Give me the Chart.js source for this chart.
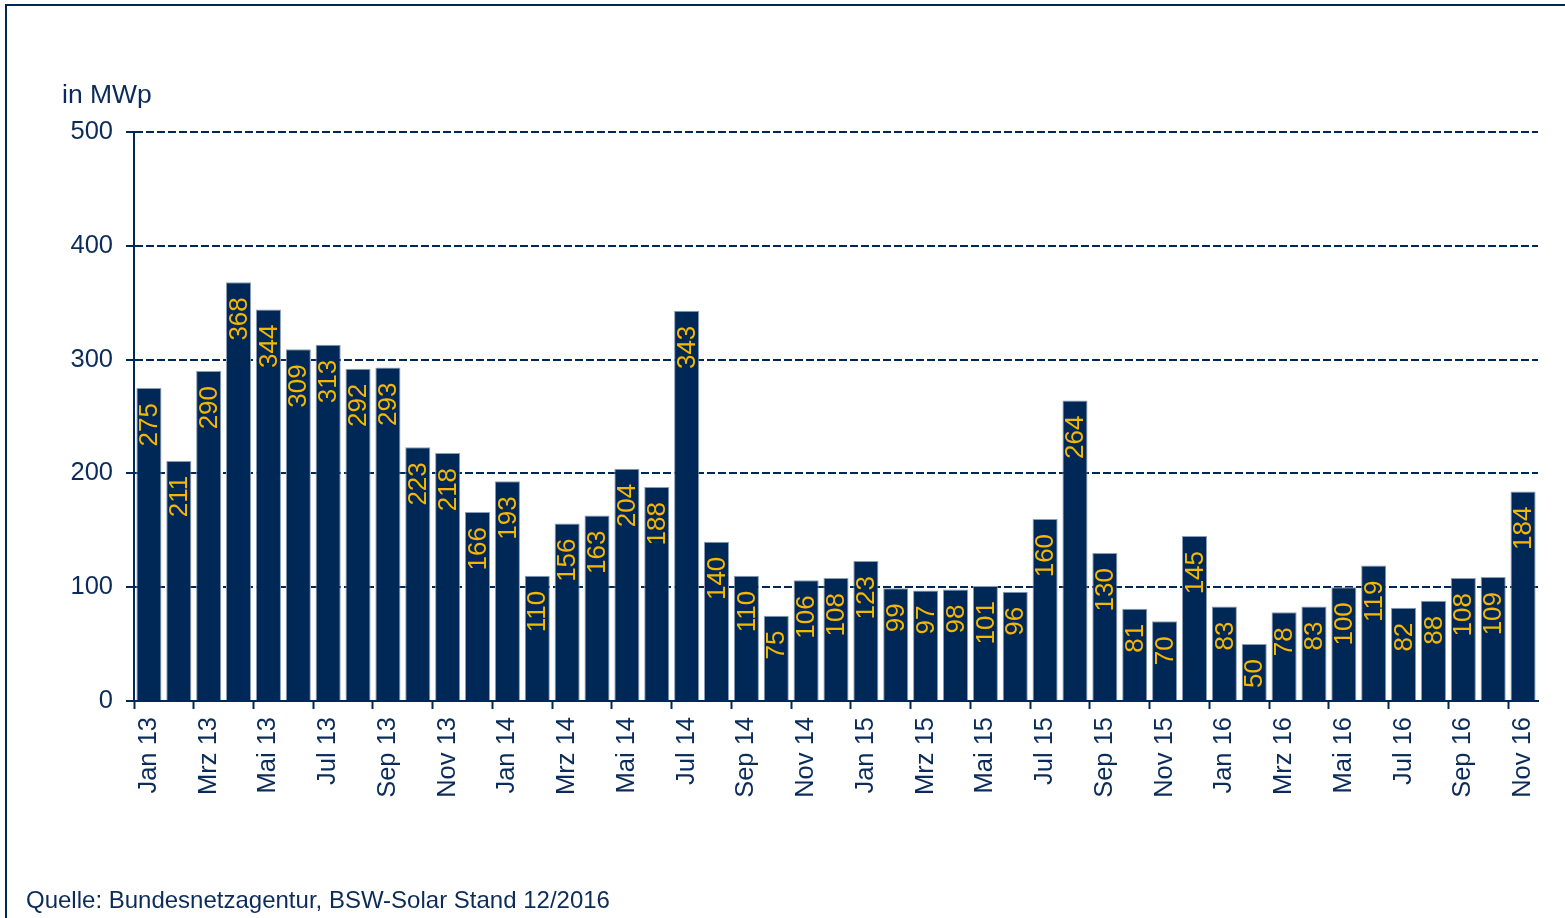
<!DOCTYPE html>
<html>
<head>
<meta charset="utf-8">
<script src="https://cdn.jsdelivr.net/npm/chart.js@4"></script>
<style>
  body { margin: 0; background: #fff; }
  #wrap { position: relative; width: 1565px; height: 918px; overflow: hidden; background: #fff; }
  #frame { position: absolute; left: 5px; top: 4px; width: 1600px; height: 1000px; border: 2px solid #002856; box-sizing: border-box; }
  canvas { position: absolute; left: 0; top: 0; }
  .txt { position: absolute; font-family: Arial, "Liberation Sans", sans-serif; color: #0b2c5a; white-space: nowrap; }
  #unit { left: 62px; top: 79px; font-size: 26.5px; }
  #source { left: 26px; top: 886px; font-size: 24px; }
</style>
</head>
<body>
<div id="wrap">
  <div id="frame"></div>
  <canvas id="chart" width="1565" height="918"></canvas>
  <div id="unit" class="txt">in MWp</div>
  <div id="source" class="txt">Quelle: Bundesnetzagentur, BSW-Solar Stand 12/2016</div>
</div>
<script>
// Monatlicher PV-Zubau
const months = [
  'Jan 13', 'Feb 13', 'Mrz 13', 'Apr 13', 'Mai 13', 'Jun 13', 'Jul 13', 'Aug 13', 'Sep 13', 'Okt 13', 'Nov 13', 'Dez 13',
  'Jan 14', 'Feb 14', 'Mrz 14', 'Apr 14', 'Mai 14', 'Jun 14', 'Jul 14', 'Aug 14', 'Sep 14', 'Okt 14', 'Nov 14', 'Dez 14',
  'Jan 15', 'Feb 15', 'Mrz 15', 'Apr 15', 'Mai 15', 'Jun 15', 'Jul 15', 'Aug 15', 'Sep 15', 'Okt 15', 'Nov 15', 'Dez 15',
  'Jan 16', 'Feb 16', 'Mrz 16', 'Apr 16', 'Mai 16', 'Jun 16', 'Jul 16', 'Aug 16', 'Sep 16', 'Okt 16', 'Nov 16'
];
const zubau = [
  275, 211, 290, 368, 344, 309, 313, 292, 293, 223, 218, 166,
  193, 110, 156, 163, 204, 188, 343, 140, 110, 75, 106, 108,
  123, 99, 97, 98, 101, 96, 160, 264, 130, 81, 70, 145,
  83, 50, 78, 83, 100, 119, 82, 88, 108, 109, 184
];
const yTicks = [0, 100, 200, 300, 400, 500];

const navy = '#002856';
const gold = '#f5b700';
const textColor = '#0b2c5a';
const fontFamily = 'Arial, "Liberation Sans", sans-serif';

// Werte senkrecht in den Balken schreiben
const barLabels = {
  id: 'barLabels',
  afterDatasetsDraw(chart) {
    const ctx = chart.ctx;
    const meta = chart.getDatasetMeta(0);
    ctx.save();
    ctx.font = '26px ' + fontFamily;
    ctx.fillStyle = gold;
    ctx.textAlign = 'right';
    ctx.textBaseline = 'middle';
    meta.data.forEach(function (bar, i) {
      ctx.save();
      ctx.translate(bar.x + 1, bar.y + 15);
      ctx.rotate(-Math.PI / 2);
      ctx.fillText(String(zubau[i]), 0, 0);
      ctx.restore();
    });
    ctx.restore();
  }
};

new Chart(document.getElementById('chart').getContext('2d'), {
  type: 'bar',
  data: {
    labels: months,
    datasets: [{
      data: zubau,
      backgroundColor: navy,
      borderColor: '#8d9db5',
      borderWidth: 1,
      barPercentage: 0.84,
      categoryPercentage: 1
    }]
  },
  options: {
    responsive: false,
    animation: false,
    layout: { padding: { left: 0, top: 132, right: 27, bottom: 117 } },
    plugins: {
      legend: { display: false },
      tooltip: { enabled: false }
    },
    scales: {
      x: {
        offset: true,
        afterFit: function (scale) { scale.height = 100; },
        border: { display: true, color: navy, width: 2 },
        grid: {
          offset: true,
          drawOnChartArea: false,
          drawTicks: true,
          tickLength: 8,
          tickWidth: 2,
          tickColor: function (c) { return c.index % 2 === 0 ? navy : 'rgba(0,0,0,0)'; }
        },
        ticks: {
          autoSkip: false,
          minRotation: 90,
          maxRotation: 90,
          padding: 8,
          color: textColor,
          font: { family: fontFamily, size: 25.5 },
          callback: function (v, i) { return i % 2 === 0 ? months[i] : ''; }
        }
      },
      y: {
        min: 0,
        max: 500,
        afterFit: function (scale) { scale.width = 134; },
        afterBuildTicks: function (scale) { scale.ticks = yTicks.map(function (v) { return { value: v }; }); },
        border: { display: true, color: navy, width: 2, dash: [8, 3] },
        grid: {
          color: navy,
          lineWidth: 2,
          drawTicks: true,
          tickLength: 8,
          tickWidth: 2,
          tickColor: navy,
          tickBorderDash: []
        },
        ticks: {
          padding: 13,
          color: textColor,
          font: { family: fontFamily, size: 25.5 }
        }
      }
    }
  },
  plugins: [barLabels]
});
</script>
</body>
</html>
